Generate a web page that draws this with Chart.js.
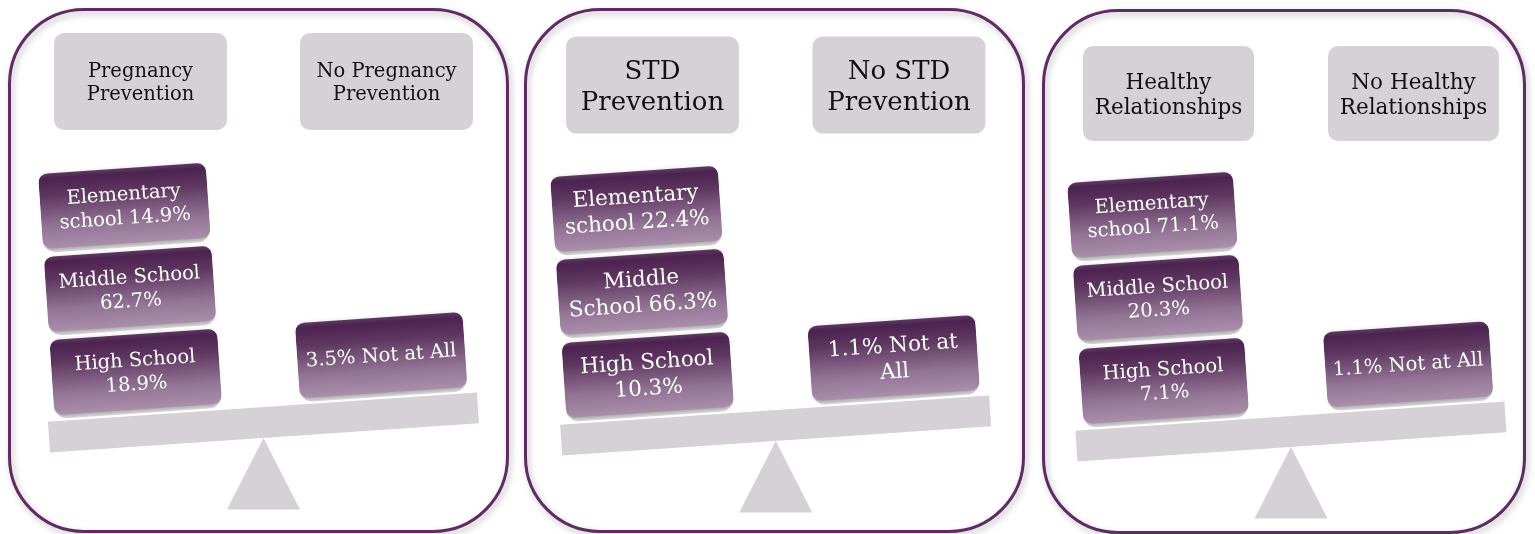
<!DOCTYPE html>
<html><head><meta charset="utf-8">
<script src="https://cdn.jsdelivr.net/npm/chart.js@4.4.1/dist/chart.umd.min.js"></script>
<style>
html,body{margin:0;padding:0;background:#fff;overflow:hidden;width:1535px;height:534px;position:relative;}
canvas{position:absolute;top:0;}
.frame{position:absolute;box-sizing:border-box;border:3px solid #5e2b63;border-radius:76px;filter:drop-shadow(2px 3px 3px rgba(0,0,0,0.28));pointer-events:none;}
</style></head><body>
<canvas id="c1" width="530" height="534" style="left:0px"></canvas>
<canvas id="c2" width="530" height="534" style="left:513px"></canvas>
<canvas id="c3" width="530" height="534" style="left:1025px"></canvas>
<div class="frame" style="left:8px;top:8px;width:501px;height:525px"></div>
<div class="frame" style="left:524px;top:8px;width:501px;height:525px"></div>
<div class="frame" style="left:1042px;top:9px;width:484px;height:525px"></div>
<script>
// ---- data ----
const levelNames = ["Elementary school", "Middle School", "High School"];
const notAtAllName = "Not at All";

const pregnancyHeaders = ["Pregnancy Prevention", "No Pregnancy Prevention"];
const pregnancyValues = [14.9, 62.7, 18.9];
const pregnancyNotAtAll = 3.5;

const stdHeaders = ["STD Prevention", "No STD Prevention"];
const stdValues = [22.4, 66.3, 10.3];
const stdNotAtAll = 1.1;

const relationshipHeaders = ["Healthy Relationships", "No Healthy Relationships"];
const relationshipValues = [71.1, 20.3, 7.1];
const relationshipNotAtAll = 1.1;

// ---- layout / style per panel ----
const FONT = '"DejaVu Serif", "Liberation Serif", serif';
const panels = [
  {id:'c1', headers:pregnancyHeaders, values:pregnancyValues, notAtAll:pregnancyNotAtAll,
   c1:140.5, c2:386.5, base:405, barW:168, headW:173, headTop:33, headH:97,
   headFont:19.5, headLH:23, blockFont:19.5, blockLH:24, breaks:[1,2,2], naBreak:0},
  {id:'c2', headers:stdHeaders, values:stdValues, notAtAll:stdNotAtAll,
   c1:139.5, c2:386, base:408, barW:168, headW:173, headTop:36.5, headH:97,
   headFont:26, headLH:31, blockFont:21.5, blockLH:26, breaks:[1,1,2], naBreak:3},
  {id:'c3', headers:relationshipHeaders, values:relationshipValues, notAtAll:relationshipNotAtAll,
   c1:143.5, c2:388.5, base:414, barW:166, headW:171, headTop:46, headH:95,
   headFont:21.5, headLH:25, blockFont:19.5, blockLH:23.5, breaks:[1,2,2], naBreak:0}
];
const panelById = {};
panels.forEach(p => panelById[p.id] = p);
const UNIT = 83.2, Y_MAX = 4.5, ANGLE = 3.9 * Math.PI / 180;
const BEAM_H = 31, BEAM_GAP = 2, BEAM_L = 214, BEAM_R = 216;
const TRI_H = 71.5, TRI_HALF = 36.5;
const GREY = '#d5d1d6';

function splitAt(text, n) {
  const w = text.split(' ');
  if (n > 0 && n < w.length) return [w.slice(0, n).join(' '), w.slice(n).join(' ')];
  return [text];
}
function rrect(ctx, x, y, w, h, r) {
  ctx.beginPath();
  ctx.moveTo(x + r, y);
  ctx.arcTo(x + w, y, x + w, y + h, r);
  ctx.arcTo(x + w, y + h, x, y + h, r);
  ctx.arcTo(x, y + h, x, y, r);
  ctx.arcTo(x, y, x + w, y, r);
  ctx.closePath();
}
function drawLines(ctx, lines, cx, cy, size, lh) {
  const first = cy - ((lines.length - 1) * lh - 0.73 * size) / 2;
  ctx.font = size + 'px ' + FONT;
  ctx.textAlign = 'center';
  ctx.textBaseline = 'alphabetic';
  lines.forEach((l, i) => ctx.fillText(l, cx, first + i * lh));
}

const seesaw = {
  id: 'seesaw',
  beforeDatasetsDraw(chart) {
    const cfg = panelById[chart.canvas.id];
    const ctx = chart.ctx;
    const xs = chart.scales.x, ys = chart.scales.y;
    const base = ys.getPixelForValue(0);
    const px = (xs.getPixelForValue(0) + xs.getPixelForValue(1)) / 2;
    const py = base + BEAM_GAP + BEAM_H;
    // header boxes
    cfg.headers.forEach((h, i) => {
      const cx = xs.getPixelForValue(i);
      ctx.fillStyle = GREY;
      rrect(ctx, cx - cfg.headW / 2, cfg.headTop, cfg.headW, cfg.headH, 10);
      ctx.fill();
      ctx.fillStyle = '#111';
      const words = h.split(' ');
      drawLines(ctx, [words.slice(0, -1).join(' '), words[words.length - 1]],
        cx, cfg.headTop + cfg.headH / 2, cfg.headFont, cfg.headLH);
    });
    // fulcrum
    ctx.fillStyle = GREY;
    ctx.beginPath();
    ctx.moveTo(px, py);
    ctx.lineTo(px + TRI_HALF, py + TRI_H);
    ctx.lineTo(px - TRI_HALF, py + TRI_H);
    ctx.closePath();
    ctx.fill();
    // tilt
    ctx.save();
    ctx.translate(px, py); ctx.rotate(-ANGLE); ctx.translate(-px, -py);
    ctx.fillStyle = GREY;
    ctx.fillRect(px - BEAM_L, base + BEAM_GAP, BEAM_L + BEAM_R, BEAM_H);
    // gradients for blocks
    chart.data.datasets.forEach((ds, d) => {
      chart.getDatasetMeta(d).data.forEach(el => {
        const t = el.y + 4, b = el.base - 4;
        const g = ctx.createLinearGradient(0, t, 0, b);
        g.addColorStop(0, '#5d3a60');
        g.addColorStop(0.07, '#4c2250');
        g.addColorStop(0.3, '#5e3760');
        g.addColorStop(0.7, '#927394');
        g.addColorStop(1, '#aa8eab');
        el.options = Object.assign({}, el.options, {backgroundColor: g});
      });
    });
    ctx.shadowColor = 'rgba(40,40,40,0.45)';
    ctx.shadowBlur = 6;
    ctx.shadowOffsetX = 0;
    ctx.shadowOffsetY = 3;
  },
  afterDatasetsDraw(chart) {
    const cfg = panelById[chart.canvas.id];
    const ctx = chart.ctx;
    ctx.shadowColor = 'rgba(0,0,0,0)';
    ctx.shadowBlur = 0; ctx.shadowOffsetY = 0;
    ctx.fillStyle = '#ffffff';
    chart.data.datasets.forEach((ds, d) => {
      chart.getDatasetMeta(d).data.forEach(el => {
        drawLines(ctx, ds.textLines, el.x, (el.y + el.base) / 2 - 1, cfg.blockFont, cfg.blockLH);
      });
    });
    ctx.restore();
  }
};

panels.forEach(cfg => {
  const canvas = document.getElementById(cfg.id);
  const W = canvas.width, H = canvas.height;
  const half = (cfg.c2 - cfg.c1) / 2;
  const [leftCat, rightCat] = cfg.headers;
  const datasets = [];
  // stack bottom-up: High, Middle, Elementary
  for (let k = levelNames.length - 1; k >= 0; k--) {
    const text = levelNames[k] + ' ' + cfg.values[k].toFixed(1) + '%';
    datasets.push({
      label: levelNames[k],
      data: [{x: leftCat, y: 1}],
      textLines: splitAt(text, cfg.breaks[k])
    });
  }
  const naText = cfg.notAtAll.toFixed(1) + '% ' + notAtAllName;
  datasets.push({label: notAtAllName, data: [{x: rightCat, y: 1}], textLines: splitAt(naText, cfg.naBreak)});
  datasets.forEach(ds => Object.assign(ds, {
    backgroundColor: '#6b476c',
    borderColor: 'rgba(0,0,0,0)',
    borderWidth: {top: 4, bottom: 4, left: 0, right: 0},
    borderSkipped: false,
    borderRadius: {topLeft: 13, topRight: 13, bottomLeft: 13, bottomRight: 13},
    inflateAmount: 0,
    barThickness: cfg.barW,
    clip: false
  }));
  new Chart(canvas.getContext('2d'), {
    type: 'bar',
    data: {labels: cfg.headers, datasets},
    options: {
      responsive: false, animation: false, devicePixelRatio: 1,
      layout: {padding: {left: cfg.c1 - half, right: W - (cfg.c2 + half),
                         top: cfg.base - Y_MAX * UNIT, bottom: H - cfg.base}},
      scales: {
        x: {type: 'category', stacked: true, display: false, offset: true},
        y: {stacked: true, display: false, min: 0, max: Y_MAX}
      },
      plugins: {legend: {display: false}, tooltip: {enabled: false}}
    },
    plugins: [seesaw]
  });
});
</script>
</body></html>
